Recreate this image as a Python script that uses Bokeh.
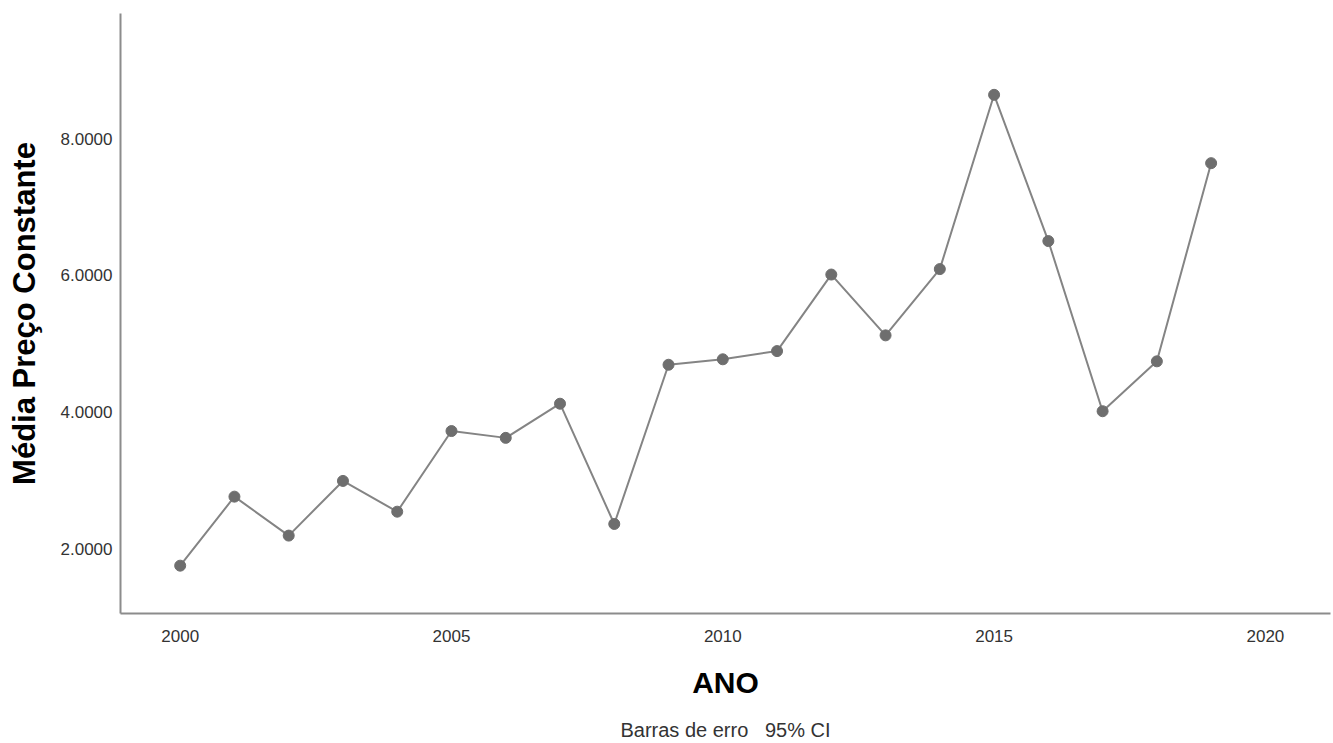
from bokeh.plotting import figure
from bokeh.models import Range1d, FixedTicker, NumeralTickFormatter, LinearAxis, ColumnDataSource
from bokeh.embed import file_html
from bokeh.resources import INLINE

years = [2000, 2001, 2002, 2003, 2004, 2005, 2006, 2007, 2008, 2009,
         2010, 2011, 2012, 2013, 2014, 2015, 2016, 2017, 2018, 2019]
media_preco = [1.75, 2.76, 2.19, 2.99, 2.54, 3.72, 3.62, 4.12, 2.36, 4.69,
               4.77, 4.89, 6.01, 5.12, 6.09, 8.64, 6.50, 4.01, 4.74, 7.64]
x_ticks = [2000, 2005, 2010, 2015, 2020]
y_ticks = [2, 4, 6, 8]
note_text = "Barras de erro\u00a0\u00a0\u00a095% CI"

FONT = "Liberation Sans"

src = ColumnDataSource(data=dict(x=years, y=media_preco))

p = figure(width=1333, height=743, output_backend="svg", toolbar_location=None,
           x_range=Range1d(1998.9, 2021.2), y_range=Range1d(1.05, 9.83),
           min_border_left=120, min_border_right=3, min_border_top=13, min_border_bottom=130)
p.outline_line_color = None
p.background_fill_color = "white"
p.border_fill_color = "white"
p.xgrid.visible = False
p.ygrid.visible = False

p.line("x", "y", source=src, line_color="#848484", line_width=2)
p.scatter("x", "y", source=src, size=11, fill_color="#6e6e6e", line_color="#6e6e6e")

for ax in (p.xaxis[0], p.yaxis[0]):
    ax.axis_line_color = "#8c8c8c"
    ax.axis_line_width = 2
    ax.major_tick_line_color = None
    ax.minor_tick_line_color = None
    ax.major_label_text_font = FONT
    ax.major_label_text_font_size = "17px"
    ax.major_label_text_color = "#333333"
    ax.axis_label_text_font = FONT
    ax.axis_label_text_font_style = "bold"
    ax.axis_label_text_color = "#000000"

p.xaxis.axis_label_text_font_size = "30px"
p.yaxis.axis_label_text_font_size = "31px"
p.xaxis.ticker = FixedTicker(ticks=x_ticks)
p.yaxis.ticker = FixedTicker(ticks=y_ticks)
p.yaxis.formatter = NumeralTickFormatter(format="0.0000")
p.xaxis.axis_label = "ANO"
p.yaxis.axis_label = "Média Preço Constante"
p.xaxis.major_label_standoff = 10
p.yaxis.major_label_standoff = 2
p.xaxis.axis_label_standoff = 21
p.yaxis.axis_label_standoff = 16

# footnote as the label of a bare axis stacked below the x axis
note_axis = LinearAxis(ticker=FixedTicker(ticks=[]), axis_line_color=None,
                       major_tick_line_color=None, minor_tick_line_color=None,
                       major_label_standoff=0, axis_label=note_text,
                       axis_label_standoff=17, axis_label_text_font=FONT,
                       axis_label_text_font_size="20px",
                       axis_label_text_font_style="normal",
                       axis_label_text_color="#333333")
p.add_layout(note_axis, "below")

open("out.html", "w").write(file_html(p, INLINE))
